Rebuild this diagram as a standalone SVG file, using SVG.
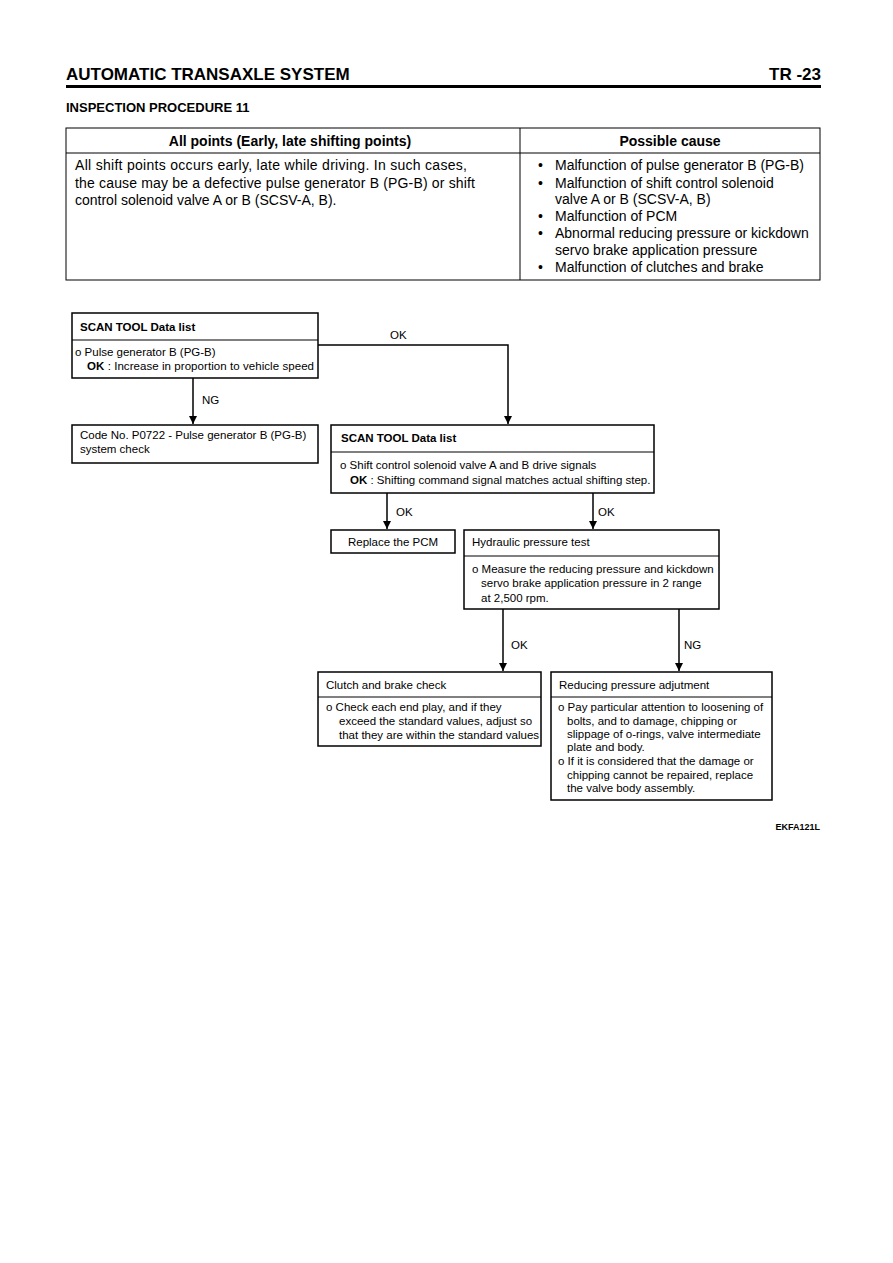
<svg xmlns="http://www.w3.org/2000/svg" width="893" height="1263" viewBox="0 0 893 1263">
<defs>
<marker id="arr" viewBox="0 0 10 10" refX="10" refY="5" markerWidth="8" markerHeight="8" markerUnits="userSpaceOnUse" orient="auto">
<path d="M0,0 L10,5 L0,10 z" fill="#000"/>
</marker>
<style>
text{font-family:"Liberation Sans",Arial,sans-serif;fill:#000}
.hd{font-size:17px;font-weight:bold}
.sub{font-size:13px;font-weight:bold}
.th{font-size:14px;font-weight:bold}
.tb{font-size:14px}
.n{font-size:11.5px}
.nb{font-size:11.5px;font-weight:bold}
.box{fill:#fff;stroke:#000;stroke-width:1.5}
.div{stroke:#000;stroke-width:1}
.tbl{fill:none;stroke:#000;stroke-width:1}
.con{fill:none;stroke:#000;stroke-width:1.5}
</style>
</defs>
<rect width="893" height="1263" fill="#fff"/>
<g id="header">
<text class="hd" x="66" y="80">AUTOMATIC TRANSAXLE SYSTEM</text>
<text class="hd" x="821" y="80" text-anchor="end">TR -23</text>
<line x1="66" y1="86.5" x2="821" y2="86.5" stroke="#000" stroke-width="3"/>
<text class="sub" x="66" y="112">INSPECTION PROCEDURE 11</text>
</g>
<g id="table">
<rect class="tbl" x="66" y="128" width="754" height="152"/>
<line class="div" x1="66" y1="153" x2="820" y2="153"/>
<line class="div" x1="520" y1="128" x2="520" y2="280"/>
<text class="th" x="290" y="146" text-anchor="middle">All points (Early, late shifting points)</text>
<text class="th" x="670" y="146" text-anchor="middle">Possible cause</text>
<text class="tb" x="75" y="170" textLength="392" lengthAdjust="spacing">All shift points occurs early, late while driving.  In such cases,</text>
<text class="tb" x="75" y="188" textLength="400" lengthAdjust="spacing">the cause may be a defective pulse generator B (PG-B) or shift</text>
<text class="tb" x="75" y="205">control solenoid valve A or B (SCSV-A, B).</text>
<text class="tb" x="538" y="170">•</text><text class="tb" x="555" y="170">Malfunction of pulse generator B (PG-B)</text>
<text class="tb" x="538" y="188">•</text><text class="tb" x="555" y="188">Malfunction of shift control solenoid</text>
<text class="tb" x="555" y="204">valve A or B (SCSV-A, B)</text>
<text class="tb" x="538" y="221">•</text><text class="tb" x="555" y="221">Malfunction of PCM</text>
<text class="tb" x="538" y="238">•</text><text class="tb" x="555" y="238">Abnormal reducing pressure or kickdown</text>
<text class="tb" x="555" y="255">servo brake application pressure</text>
<text class="tb" x="538" y="272">•</text><text class="tb" x="555" y="272">Malfunction of clutches and brake</text>
</g>
<g id="connectors">
<polyline class="con" points="318,345 508,345 508,424" marker-end="url(#arr)"/>
<text class="n" x="390" y="339">OK</text>
<line class="con" x1="193" y1="378" x2="193" y2="424" marker-end="url(#arr)"/>
<text class="n" x="202" y="404">NG</text>
<line class="con" x1="387" y1="493" x2="387" y2="529" marker-end="url(#arr)"/>
<text class="n" x="396" y="516">OK</text>
<line class="con" x1="593" y1="493" x2="593" y2="529" marker-end="url(#arr)"/>
<text class="n" x="598" y="516">OK</text>
<line class="con" x1="503" y1="609" x2="503" y2="671" marker-end="url(#arr)"/>
<text class="n" x="511" y="649">OK</text>
<line class="con" x1="679" y1="609" x2="679" y2="671" marker-end="url(#arr)"/>
<text class="n" x="684" y="649">NG</text>
</g>
<g id="scan1">
<rect class="box" x="72" y="313" width="246" height="65"/>
<line class="div" x1="72" y1="340" x2="318" y2="340"/>
<text class="nb" x="80" y="331">SCAN TOOL Data list</text>
<text class="n" x="75" y="356">o  Pulse generator B (PG-B)</text>
<text class="n" x="87" y="370" textLength="227" lengthAdjust="spacing"><tspan font-weight="bold">OK</tspan> :  Increase in proportion to vehicle speed</text>
</g>
<g id="code">
<rect class="box" x="72" y="425" width="246" height="38"/>
<text class="n" x="80" y="439">Code No. P0722 - Pulse generator B (PG-B)</text>
<text class="n" x="80" y="453">system check</text>
</g>
<g id="scan2">
<rect class="box" x="331" y="425" width="323" height="68"/>
<line class="div" x1="331" y1="452" x2="654" y2="452"/>
<text class="nb" x="341" y="442">SCAN TOOL Data list</text>
<text class="n" x="340" y="469">o Shift control solenoid valve A and B drive signals</text>
<text class="n" x="350" y="484"><tspan font-weight="bold">OK</tspan> : Shifting command signal matches actual shifting step.</text>
</g>
<g id="replace">
<rect class="box" x="331" y="530" width="124" height="23"/>
<text class="n" x="393" y="546" text-anchor="middle">Replace the PCM</text>
</g>
<g id="hydraulic">
<rect class="box" x="464" y="530" width="255" height="79"/>
<line class="div" x1="464" y1="556" x2="719" y2="556"/>
<text class="n" x="472" y="546">Hydraulic pressure test</text>
<text class="n" x="472" y="573">o Measure the reducing pressure and kickdown</text>
<text class="n" x="481" y="587">servo brake application pressure in 2 range</text>
<text class="n" x="481" y="602">at 2,500 rpm.</text>
</g>
<g id="clutch">
<rect class="box" x="318" y="672" width="223" height="74"/>
<line class="div" x1="318" y1="697" x2="541" y2="697"/>
<text class="n" x="326" y="689">Clutch and brake check</text>
<text class="n" x="326" y="711">o  Check each end play, and if they</text>
<text class="n" x="339" y="725">exceed the standard values, adjust so</text>
<text class="n" x="339" y="739">that they are within the standard values</text>
</g>
<g id="reducing">
<rect class="box" x="551" y="672" width="221" height="128"/>
<line class="div" x1="551" y1="697" x2="772" y2="697"/>
<text class="n" x="559" y="689">Reducing pressure adjutment</text>
<text class="n" x="558" y="711">o Pay particular attention to loosening of</text>
<text class="n" x="567" y="725">bolts, and to damage, chipping or</text>
<text class="n" x="567" y="738">slippage of o-rings, valve intermediate</text>
<text class="n" x="567" y="751">plate and body.</text>
<text class="n" x="558" y="765">o If it is considered that the damage or</text>
<text class="n" x="567" y="779">chipping cannot be repaired, replace</text>
<text class="n" x="567" y="792">the valve body assembly.</text>
</g>
<text x="820" y="830" text-anchor="end" font-size="9" font-weight="bold">EKFA121L</text>
</svg>
